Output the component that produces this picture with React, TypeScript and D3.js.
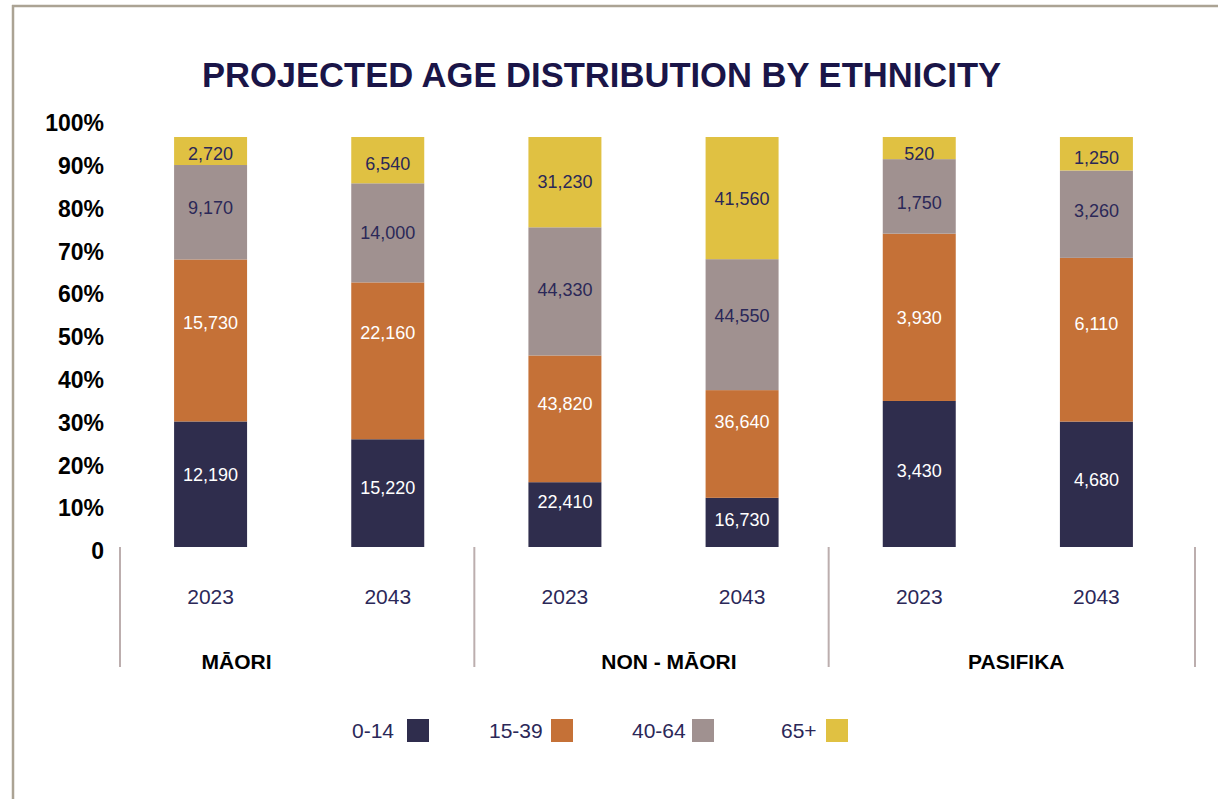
import React from "react";
import * as d3 from "d3";

const groups = ["MĀORI", "NON - MĀORI", "PASIFIKA"];
const years = ["2023", "2043"];
const ageBands = ["0-14", "15-39", "40-64", "65+"];
const colors = ["#2f2d4d", "#c57137", "#a09190", "#e0c142"];
const labelColors = ["#ffffff", "#ffffff", "#2b2858", "#2b2858"];

// values per bar (group x year), in order of ageBands
const age0_14 = [12190, 15220, 22410, 16730, 3430, 4680];
const age15_39 = [15730, 22160, 43820, 36640, 3930, 6110];
const age40_64 = [9170, 14000, 44330, 44550, 1750, 3260];
const age65 = [2720, 6540, 31230, 41560, 520, 1250];

const yTicks = [0, 10, 20, 30, 40, 50, 60, 70, 80, 90, 100];

// layout (not data): label nudges (px) from segment centre, per bar, per band
const labelNudge = [
  [-10, -18, -5, 3],
  [-6, -28, 0, 3],
  [-13, -15, -2, -1],
  [-3, -22, -9, 0],
  [-3, 0, 6, 5],
  [-5, -16, -4, 4],
];
const W = 1218;
const H = 799;
const groupLabelOffset = [26, 104, 97];
const font = "'Liberation Sans', Arial, Helvetica, sans-serif";

export default function App() {
  const bars = groups.flatMap((g, gi) =>
    years.map((y, yi) => {
      const i = gi * 2 + yi;
      const vals = [age0_14[i], age15_39[i], age40_64[i], age65[i]];
      return { key: `${g}-${y}`, group: g, gi, i, year: y, vals };
    })
  );

  const x = d3
    .scaleBand<string>()
    .domain(bars.map((b) => b.key))
    .range([122, 1185])
    .paddingInner(0.588)
    .paddingOuter(0.294);
  const step = x.step();
  const bw = x.bandwidth();

  const yBar = d3.scaleLinear().domain([0, 1]).range([547, 137]);
  const yAxis = d3.scaleLinear().domain([0, 100]).range([551, 123]);

  const navy = "#2b2858";

  const separators = groups.map((g, gi) => {
    const first = bars[gi * 2];
    return (x(first.key) as number) + bw / 2 - step / 2 - 2;
  });
  const lastBar = bars[bars.length - 1];
  separators.push((x(lastBar.key) as number) + bw / 2 + step / 2 + 10);

  const legendX = [352, 489, 632, 781];
  const legendSwX = [407, 551, 692, 826];

  return (
    <svg
      width={W}
      height={H}
      style={{ position: "absolute", left: 0, top: 0, background: "#fff" }}
      fontFamily={font}
    >
      <rect x={0} y={0} width={W} height={H} fill="#fff" />
      {/* frame */}
      <line x1={12} x2={W} y1={6} y2={6} stroke="#aba394" strokeWidth={2.5} />
      <line x1={13} x2={13} y1={5} y2={H} stroke="#aba394" strokeWidth={2.5} />

      {/* title */}
      <text
        x={601.5}
        y={87}
        textAnchor="middle"
        fontSize={34.6}
        fontWeight="bold"
        fill="#1a1548"
      >
        PROJECTED AGE DISTRIBUTION BY ETHNICITY
      </text>

      {/* y axis labels */}
      {yTicks.map((t) => (
        <text
          key={t}
          x={104}
          y={yAxis(t)}
          dy="0.36em"
          textAnchor="end"
          fontSize={23}
          fontWeight="bold"
          fill="#000"
        >
          {t === 0 ? "0" : `${t}%`}
        </text>
      ))}

      {/* bars */}
      {bars.map((b) => {
        const total = d3.sum(b.vals);
        const stackVals = d3.cumsum(b.vals);
        const x0 = x(b.key) as number;
        return (
          <g key={b.key}>
            {b.vals.map((v, k) => {
              const lo = (stackVals[k] - v) / total;
              const hi = stackVals[k] / total;
              const yTop = yBar(hi);
              const yBot = yBar(lo);
              return (
                <g key={k}>
                  <rect x={x0} y={yTop} width={bw} height={yBot - yTop} fill={colors[k]} />
                  <text
                    x={x0 + bw / 2}
                    y={(yTop + yBot) / 2 + labelNudge[b.i][k]}
                    dy="0.36em"
                    textAnchor="middle"
                    fontSize={18}
                    fill={labelColors[k]}
                  >
                    {d3.format(",")(v)}
                  </text>
                </g>
              );
            })}
            <text
              x={x0 + bw / 2}
              y={604}
              textAnchor="middle"
              fontSize={21}
              fill={navy}
            >
              {b.year}
            </text>
          </g>
        );
      })}

      {/* separators */}
      {separators.map((sx, i) => (
        <line key={i} x1={sx} x2={sx} y1={547} y2={667} stroke="#bcaeae" strokeWidth={2} />
      ))}

      {/* group labels */}
      {groups.map((g, gi) => {
        const first = bars[gi * 2];
        const cx = (x(first.key) as number) + bw / 2 + groupLabelOffset[gi];
        return (
          <text
            key={g}
            x={cx}
            y={669}
            textAnchor="middle"
            fontSize={21}
            fontWeight="bold"
            fill="#000"
          >
            {g}
          </text>
        );
      })}

      {/* legend */}
      {ageBands.map((a, i) => (
        <g key={a}>
          <text x={legendX[i]} y={738} fontSize={21} fill={navy}>
            {a}
          </text>
          <rect x={legendSwX[i]} y={719} width={22} height={23} fill={colors[i]} />
        </g>
      ))}
    </svg>
  );
}
